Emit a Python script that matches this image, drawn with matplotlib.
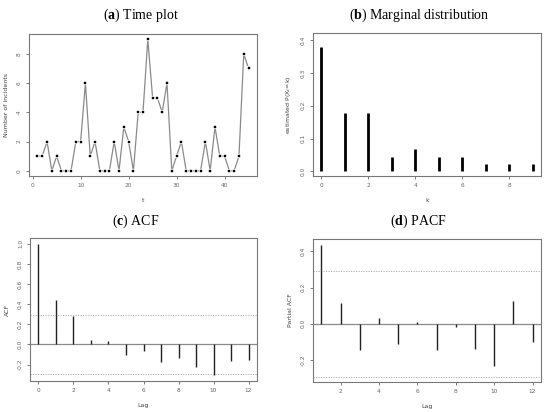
import numpy as np
import matplotlib
matplotlib.use("Agg")
import matplotlib.pyplot as plt

plt.rcParams["mathtext.fontset"] = "custom"
plt.rcParams["mathtext.rm"] = "Liberation Serif"
plt.rcParams["mathtext.bf"] = "Liberation Serif:bold"

# --- data ---
t = list(range(1, 46))
incidents = [1, 1, 2, 0, 1, 0, 0, 0, 2, 2, 6, 1, 2, 0, 0, 0, 2, 0, 3, 2, 0, 4, 4, 9,
             5, 5, 4, 6, 0, 1, 2, 0, 0, 0, 0, 2, 0, 3, 1, 1, 0, 0, 1, 8, 7]

k_values = list(range(10))
marginal = [0.378, 0.178, 0.178, 0.044, 0.067, 0.044, 0.044, 0.022, 0.022, 0.022]

acf_lags = list(range(13))
acf_vals = [1.0, 0.44, 0.284, 0.046, 0.03, -0.102, -0.069, -0.178, -0.129, -0.225,
            -0.307, -0.162, -0.149]

pacf_lags = list(range(1, 13))
pacf_vals = [0.437, 0.114, -0.144, 0.029, -0.111, 0.011, -0.144, -0.017, -0.14,
             -0.236, 0.124, -0.101]

conf = 0.292

titles = [("a", "Time plot"), ("b", "Marginal distribution"), ("c", "ACF"), ("d", "PACF")]

W, H = 550, 412
fig = plt.figure(figsize=(W / 100, H / 100), dpi=100)

BOX = "#777777"
TICK = "#666666"


def make_axes(x0, y0, x1, y1):
    ax = fig.add_axes([x0 / W, 1 - y1 / H, (x1 - x0) / W, (y1 - y0) / H])
    for s in ax.spines.values():
        s.set_color(BOX)
        s.set_linewidth(0.8)
    ax.tick_params(length=2.5, width=0.6, color=TICK, labelsize=4.2,
                   labelcolor=TICK, pad=2.5)
    return ax


def rotate_y(ax):
    for lab in ax.get_yticklabels():
        lab.set_rotation(90)
        lab.set_va("center")


def axis_labels(ax, xl, yl):
    ax.set_xlabel(xl, fontsize=4.5, color="#444444", labelpad=7)
    ax.set_ylabel(yl, fontsize=4.5, color="#444444", labelpad=6)


# --- (a) time plot ---
ax = make_axes(29, 34, 257, 176)
ax.plot(t, incidents, color="#8a8a8a", lw=0.9, zorder=1)
ax.plot(t, incidents, ls="none", marker="s", ms=1.6, mfc="black", mec="white",
        mew=1.6, zorder=2)
ax.plot(t, incidents, ls="none", marker="s", ms=1.6, mfc="black", mec="black",
        mew=0.3, zorder=3)
ax.set_xlim(-0.76, 46.76)
ax.set_ylim(-0.36, 9.36)
ax.set_xticks([0, 10, 20, 30, 40])
ax.set_yticks([0, 2, 4, 6, 8])
rotate_y(ax)
axis_labels(ax, "t", "Number of incidents")

# --- (b) marginal distribution ---
ax = make_axes(313, 33, 541, 176)
ax.vlines(k_values, 0, marginal, color="black", lw=2.0)
ax.set_xlim(-0.36, 9.36)
ax.set_ylim(-0.014, 0.422)
ax.set_xticks([0, 2, 4, 6, 8])
ax.set_yticks([0.0, 0.1, 0.2, 0.3, 0.4])
ax.set_yticklabels(["0.0", "0.1", "0.2", "0.3", "0.4"])
rotate_y(ax)
axis_labels(ax, "k", "estimated P(X$_t$=k)")

# --- (c) ACF ---
ax = make_axes(30, 238, 257, 381)
ax.axhline(0, color="#8a8a8a", lw=0.9, zorder=1)
for c in (conf, -conf):
    ax.axhline(c, color="#aaaaaa", lw=0.6, ls=(0, (1.5, 1.5)))
ax.vlines(acf_lags, 0, acf_vals, color="#222222", lw=1.0, zorder=2)
ax.set_xlim(-0.48, 12.48)
ax.set_ylim(-0.362, 1.056)
ax.set_xticks([0, 2, 4, 6, 8, 10, 12])
ax.set_yticks([-0.2, 0.0, 0.2, 0.4, 0.6, 0.8, 1.0])
ax.set_yticklabels(["-0.2", "0.0", "0.2", "0.4", "0.6", "0.8", "1.0"])
rotate_y(ax)
axis_labels(ax, "Lag", "ACF")

# --- (d) PACF ---
ax = make_axes(313, 239, 541, 382)
ax.axhline(0, color="#8a8a8a", lw=0.9, zorder=1)
for c in (conf, -conf):
    ax.axhline(c, color="#aaaaaa", lw=0.6, ls=(0, (1.5, 1.5)))
ax.vlines(pacf_lags, 0, pacf_vals, color="#222222", lw=1.0, zorder=2)
ax.set_xlim(0.56, 12.44)
ax.set_ylim(-0.322, 0.468)
ax.set_xticks([2, 4, 6, 8, 10, 12])
ax.set_yticks([-0.2, 0.0, 0.2, 0.4])
ax.set_yticklabels(["-0.2", "0.0", "0.2", "0.4"])
rotate_y(ax)
axis_labels(ax, "Lag", "Partial ACF")

# --- panel titles ---
title_pos = [(141, 15), (419, 15), (136, 221), (418, 221)]
for (letter, name), (x, y) in zip(titles, title_pos):
    fig.text(x / W, 1 - y / H, "(" + r"$\mathbf{" + letter + "}$" + ") " + name,
             ha="center", va="center", fontsize=10, family="Liberation Serif")

fig.savefig("out.png", dpi=100)
